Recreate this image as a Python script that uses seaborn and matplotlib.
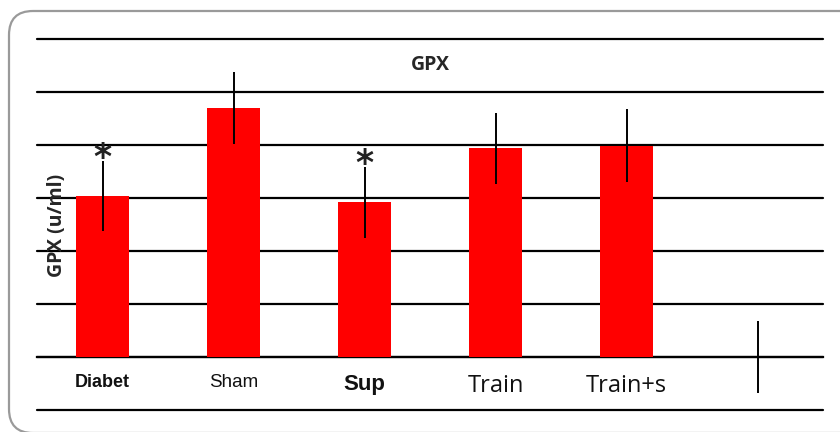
import matplotlib
matplotlib.use("Agg")
import matplotlib.pyplot as plt
from matplotlib.patches import FancyBboxPatch
import seaborn as sns
import pandas as pd

groups = ["Diabet", "Sham", "Sup", "Train", "Train+s", " "]
values = [30.3, 47.0, 29.2, 39.4, 39.9, 0.0]
errors = [6.6, 6.8, 6.7, 6.7, 6.8, 6.7]
significant = [True, False, True, False, False, False]
grid_ticks = [-10, 0, 10, 20, 30, 40, 50, 60]

df = pd.DataFrame({"group": groups, "value": values, "err": errors})

sns.set_theme(style="white")
plt.rcParams["font.family"] = ["Liberation Sans", "DejaVu Sans"]

fig = plt.figure(figsize=(8.4, 4.32), dpi=100)
ax = fig.add_axes([37 / 840, 22 / 432, 786 / 840, 371 / 432])

sns.barplot(data=df, x="group", y="value", order=groups, color="#ff0000",
            saturation=1, width=0.4, errorbar=None, ax=ax, zorder=3,
            linewidth=0, edgecolor="none")
ax.errorbar(range(len(groups)), values, yerr=errors, fmt="none",
            ecolor="black", elinewidth=1.4, capsize=0, zorder=4)

for i, (v, e, s) in enumerate(zip(values, errors, significant)):
    if s:
        ax.text(i, v + e - 2.6, "*", ha="center", va="bottom", fontsize=25,
                family="DejaVu Sans", weight="bold", color="#222222", zorder=5)

ax.set_xlim(-0.5, len(groups) - 0.5)
ax.set_ylim(grid_ticks[0], grid_ticks[-1])
ax.set_yticks(grid_ticks)
ax.yaxis.grid(True, color="black", linewidth=1.6, zorder=0)
for gl in ax.get_ygridlines():
    gl.set_clip_on(False)
ax.tick_params(axis="y", left=False, labelleft=False)
ax.tick_params(axis="x", bottom=False, pad=6)
for sp in ["left", "right", "top"]:
    ax.spines[sp].set_visible(False)
ax.spines["bottom"].set_position(("data", 0))
ax.spines["bottom"].set_color("black")
ax.spines["bottom"].set_linewidth(1.6)
ax.set_xlabel("")
ax.set_ylabel("")
ax.set_facecolor("none")

label_styles = [
    dict(family="Liberation Sans", weight="bold", size=13),
    dict(family="Liberation Sans", weight="normal", size=13.5),
    dict(family="Liberation Sans", weight="bold", size=16),
    dict(family="Open Sans", weight="normal", size=17),
    dict(family="Open Sans", weight="normal", size=17),
    dict(family="Liberation Sans", weight="normal", size=12),
]
ax.set_xticks(range(len(groups)))
ax.set_xticklabels(groups)
for lbl, st in zip(ax.get_xticklabels(), label_styles):
    lbl.set_fontfamily(st["family"])
    lbl.set_fontweight(st["weight"])
    lbl.set_fontsize(st["size"])
    lbl.set_color("#111111")

fig.text(430 / 840, 1 - 65 / 432, "GPX", ha="center", va="center",
         fontsize=14, fontweight="bold", family="Open Sans")
fig.text(57 / 840, 1 - 225 / 432, "GPX (u/ml)", ha="center", va="center",
         rotation=90, fontsize=14, fontweight="bold", family="Open Sans")

border = FancyBboxPatch((9, -1), 870, 422, boxstyle="round,pad=0,rounding_size=24",
                        transform=None, facecolor="none", edgecolor="#9a9a9a",
                        linewidth=1.6, clip_on=False)
fig.patches.append(border)

fig.savefig("out.png", dpi=100)
